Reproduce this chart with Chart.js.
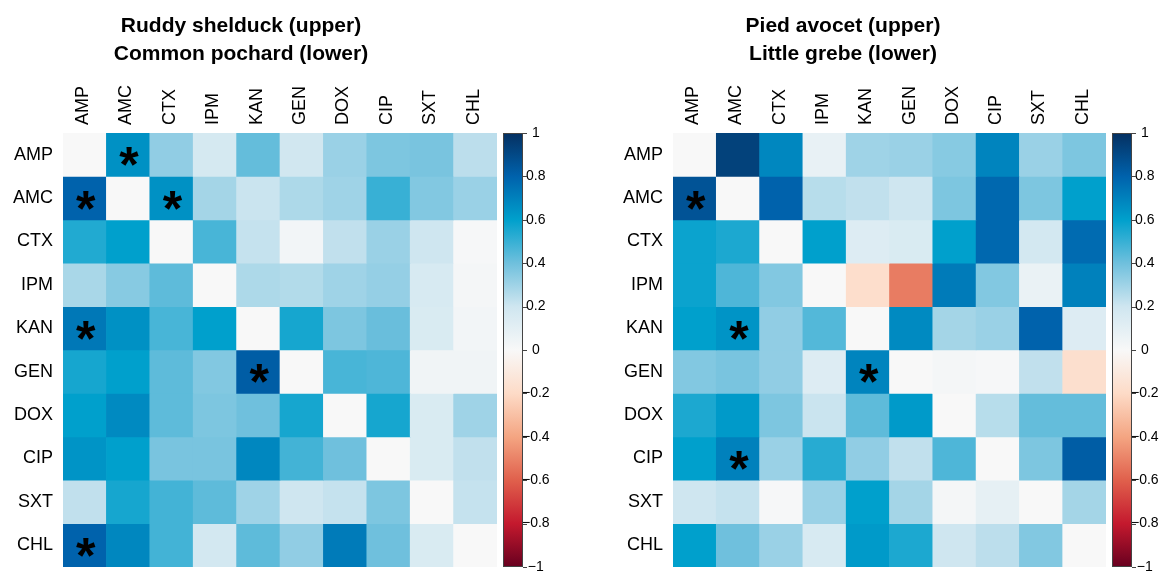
<!DOCTYPE html>
<html>
<head>
<meta charset="utf-8">
<script src="https://cdn.jsdelivr.net/npm/chart.js@4.4.1/dist/chart.umd.min.js"></script>
<style>
  body { margin: 0; background: #fff; }
  #wrap { position: relative; width: 1162px; height: 572px; overflow: hidden; }
  .panel { position: absolute; top: 0; width: 581px; height: 572px; }
  .title {
    position: absolute; top: 11px; text-align: center;
    font: bold 21px "Liberation Sans", Arial, sans-serif; line-height: 28px; color: #000;
  }
</style>
</head>
<body>
<div id="wrap">
  <div class="panel" style="left:0"><canvas id="left" width="581" height="572"></canvas></div>
  <div class="panel" style="left:581px"><canvas id="right" width="581" height="572"></canvas></div>
  <div class="title" style="left:0;width:482px">Ruddy shelduck (upper)<br>Common pochard (lower)</div>
  <div class="title" style="left:581px;width:524px">Pied avocet (upper)<br>Little grebe (lower)</div>
</div>
<script>
// antibiotiques (lignes et colonnes)
const drugs = ['AMP', 'AMC', 'CTX', 'IPM', 'KAN', 'GEN', 'DOX', 'CIP', 'SXT', 'CHL'];

// Ruddy shelduck au-dessus de la diagonale, Common pochard en dessous
const ruddyPochard = [
  [0.00, 0.65, 0.33, 0.17, 0.42, 0.19, 0.31, 0.37, 0.38, 0.24],
  [0.80, 0.00, 0.65, 0.29, 0.21, 0.27, 0.30, 0.50, 0.36, 0.31],
  [0.54, 0.60, 0.00, 0.47, 0.22, 0.03, 0.23, 0.31, 0.20, 0.01],
  [0.28, 0.35, 0.43, 0.00, 0.27, 0.26, 0.30, 0.32, 0.16, 0.02],
  [0.73, 0.65, 0.47, 0.60, 0.00, 0.56, 0.37, 0.41, 0.15, 0.03],
  [0.56, 0.60, 0.43, 0.36, 0.82, 0.00, 0.47, 0.46, 0.04, 0.04],
  [0.60, 0.67, 0.43, 0.37, 0.40, 0.56, 0.00, 0.56, 0.15, 0.30],
  [0.64, 0.60, 0.38, 0.38, 0.68, 0.48, 0.40, 0.00, 0.15, 0.23],
  [0.23, 0.56, 0.48, 0.43, 0.30, 0.20, 0.22, 0.37, 0.00, 0.22],
  [0.80, 0.68, 0.48, 0.18, 0.43, 0.33, 0.72, 0.40, 0.15, 0.00]
];
const ruddyPochardStars = [[0, 1], [1, 0], [1, 2], [4, 0], [5, 4], [9, 0]];

// Pied avocet au-dessus, Little grebe en dessous
const avocetGrebe = [
  [0.00, 0.93, 0.68, 0.08, 0.30, 0.31, 0.35, 0.69, 0.31, 0.37],
  [0.86, 0.00, 0.80, 0.25, 0.23, 0.20, 0.37, 0.78, 0.37, 0.60],
  [0.58, 0.55, 0.00, 0.60, 0.13, 0.15, 0.60, 0.78, 0.18, 0.77],
  [0.58, 0.46, 0.36, 0.00, -0.18, -0.52, 0.72, 0.36, 0.07, 0.70],
  [0.60, 0.64, 0.33, 0.45, 0.00, 0.67, 0.29, 0.31, 0.80, 0.13],
  [0.36, 0.38, 0.33, 0.13, 0.69, 0.00, 0.02, 0.01, 0.23, -0.17],
  [0.55, 0.62, 0.37, 0.21, 0.43, 0.62, 0.00, 0.25, 0.42, 0.42],
  [0.60, 0.70, 0.31, 0.53, 0.33, 0.23, 0.46, 0.00, 0.37, 0.82],
  [0.20, 0.22, 0.01, 0.31, 0.60, 0.29, 0.02, 0.09, 0.00, 0.29],
  [0.60, 0.40, 0.31, 0.16, 0.62, 0.55, 0.20, 0.24, 0.36, 0.00]
];
const avocetGrebeStars = [[1, 0], [4, 1], [5, 4], [7, 1]];

// palette de couleurs (-1 .. 1)
const scaleValues = [-1, -0.8, -0.6, -0.4, -0.2, 0, 0.2, 0.4, 0.6, 0.8, 1];
const scaleColors = ['#67001F', '#C4192E', '#E0604C', '#F4A582', '#FDDBC7', '#F8F8F8',
                     '#CFE6F0', '#6FC0DD', '#00A0CC', '#0062AC', '#053061'];

function hexToRgb(h) {
  return [1, 3, 5].map(i => parseInt(h.slice(i, i + 2), 16));
}

function corrColor(v) {
  for (let i = 1; i < scaleValues.length; i++) {
    if (v <= scaleValues[i]) {
      const t = (v - scaleValues[i - 1]) / (scaleValues[i] - scaleValues[i - 1]);
      const a = hexToRgb(scaleColors[i - 1]), b = hexToRgb(scaleColors[i]);
      return `rgb(${a.map((c, k) => Math.round(c + (b[k] - c) * t)).join(',')})`;
    }
  }
  return scaleColors[scaleColors.length - 1];
}

Chart.defaults.font.family = '"Liberation Sans", Arial, sans-serif';
Chart.defaults.color = '#000';

// pas de marge auto autour des axes
function noPadding(a) {
  a.paddingTop = 0; a.paddingBottom = 0; a.paddingLeft = 0; a.paddingRight = 0;
}

// asterisques + barre de couleur
const corrExtras = {
  id: 'corrExtras',
  afterDatasetsDraw(chart, args, opts) {
    const { ctx, scales: { x, y } } = chart;
    ctx.save();
    ctx.font = 'bold 50px "Liberation Sans", Arial, sans-serif';
    ctx.fillStyle = '#000';
    ctx.textAlign = 'center';
    ctx.textBaseline = 'alphabetic';
    const m = ctx.measureText('*');
    const mid = (m.actualBoundingBoxAscent - m.actualBoundingBoxDescent) / 2;
    opts.stars.forEach(([r, c]) => {
      ctx.fillText('*', x.getPixelForValue(c) + 1, y.getPixelForValue(r) + mid + 2);
    });
    ctx.restore();
  },
  afterDraw(chart) {
    const { ctx, chartArea } = chart;
    const cb = chart.scales.cb;
    const top = cb.getPixelForValue(1), bottom = cb.getPixelForValue(-1);
    const x0 = chartArea.right + 6, w = 20;
    const g = ctx.createLinearGradient(0, bottom, 0, top);
    scaleValues.forEach((v, i) => g.addColorStop((v + 1) / 2, scaleColors[i]));
    ctx.save();
    ctx.fillStyle = g;
    ctx.fillRect(x0, top, w, bottom - top);
    ctx.strokeStyle = '#444';
    ctx.lineWidth = 1;
    ctx.strokeRect(x0 + 0.5, top + 0.5, w - 1, bottom - top - 1);
    ctx.beginPath();
    cb.ticks.forEach(t => {
      const py = Math.round(cb.getPixelForValue(t.value)) + 0.5;
      ctx.moveTo(x0 + w, py);
      ctx.lineTo(x0 + w + 4, py);
    });
    ctx.stroke();
    ctx.restore();
  }
};

function makeCorrChart(id, matrix, stars, yWidth, cbWidth) {
  return new Chart(document.getElementById(id), {
    type: 'bar',
    data: {
      labels: drugs,
      datasets: matrix.map((row, r) => ({
        data: row.map(() => [r - 0.5, r + 0.5]),
        backgroundColor: row.map(v => corrColor(v)),
        borderWidth: 0,
        barPercentage: 1,
        categoryPercentage: 1,
        grouped: false
      }))
    },
    options: {
      responsive: false,
      animation: false,
      layout: { padding: { top: 0, left: 0, right: 0, bottom: 5 } },
      plugins: {
        legend: { display: false },
        tooltip: { enabled: false },
        corrExtras: { stars }
      },
      scales: {
        x: {
          type: 'category', position: 'top', offset: true,
          grid: { display: false, drawTicks: false }, border: { display: false },
          ticks: { minRotation: 90, maxRotation: 90, autoSkip: false, padding: 8, labelOffset: 20, font: { size: 18 } },
          afterFit(a) { a.height = 133; noPadding(a); }
        },
        y: {
          type: 'linear', min: -0.5, max: 9.5, reverse: true,
          grid: { display: false, drawTicks: false }, border: { display: false },
          afterBuildTicks(a) { a.ticks = drugs.map((_, i) => ({ value: i })); },
          ticks: { padding: 10, font: { size: 18 }, callback: v => drugs[v] },
          afterFit(a) { a.width = yWidth; noPadding(a); }
        },
        cb: {
          type: 'linear', position: 'right', min: -1, max: 1,
          grid: { display: false, drawTicks: false }, border: { display: false },
          ticks: {
            stepSize: 0.2, padding: 25, crossAlign: 'center', font: { size: 14 },
            callback: v => {
              const r = Math.round(v * 10) / 10;
              return r < 0 ? '\u2212' + Math.abs(r) : String(r);
            }
          },
          afterFit(a) { a.width = cbWidth; noPadding(a); }
        }
      }
    },
    plugins: [corrExtras]
  });
}

makeCorrChart('left', ruddyPochard, ruddyPochardStars, 63, 84);
makeCorrChart('right', avocetGrebe, avocetGrebeStars, 92, 56);
</script>
</body>
</html>
